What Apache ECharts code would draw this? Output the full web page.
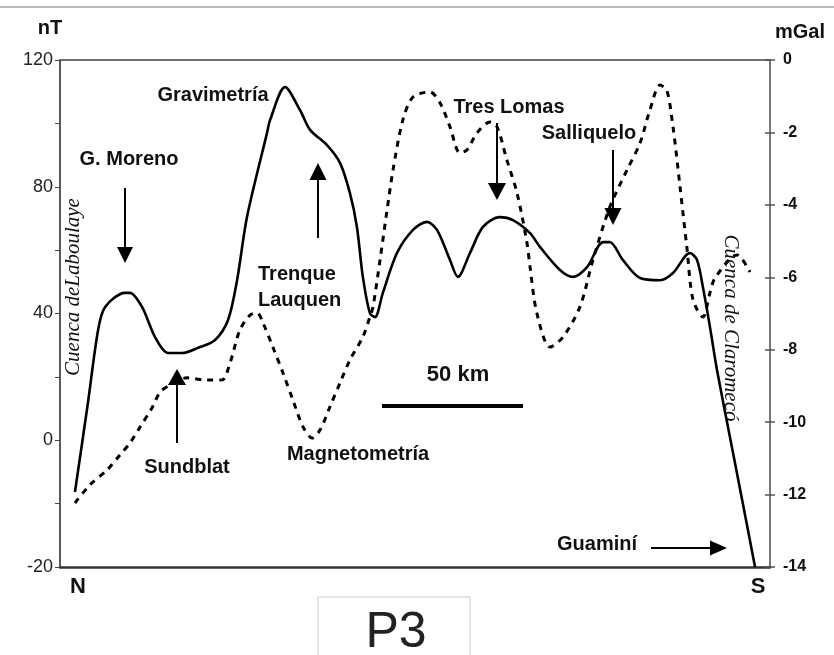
<!DOCTYPE html>
<html>
<head>
<meta charset="utf-8">
<script src="https://cdn.jsdelivr.net/npm/echarts@6/dist/echarts.min.js"></script>
<style>
html,body{margin:0;padding:0;background:#fff;}
#chart{width:834px;height:655px;}
</style>
</head>
<body>
<div id="chart"></div>
<script>
// Distance along profile (km, N -> S)
const gravKm = [5.3, 9.9, 13.5, 16.0, 23.0, 24.8, 29.1, 33.7, 38.3, 43.3, 48.9, 55.0, 59.6, 62.8, 66.3, 73.4, 74.5, 79.8, 85.1, 88.7, 94.7, 99.3, 102.8, 105.3, 107.4, 109.9, 111.7, 114.5, 119.5, 125.2, 130.1, 133.7, 138.3, 141.1, 145.4, 150.0, 156.0, 160.6, 166.7, 170.2, 177.3, 181.9, 186.9, 192.6, 195.0, 199.6, 205.7, 212.8, 217.4, 223.4, 225.9, 228.0, 230.5, 233.0, 238.7, 246.5];
// Gravimetría (mGal, right axis)
const gravMgal = [-11.93, -9.47, -7.46, -6.82, -6.43, -6.43, -6.82, -7.65, -8.09, -8.09, -7.95, -7.73, -7.18, -6.08, -4.34, -2.02, -1.66, -0.75, -1.38, -1.93, -2.35, -2.84, -3.67, -4.61, -5.99, -6.99, -7.10, -6.43, -5.33, -4.69, -4.47, -4.69, -5.52, -5.99, -5.33, -4.61, -4.34, -4.42, -4.78, -5.16, -5.80, -5.99, -5.72, -5.03, -5.03, -5.52, -6.02, -6.08, -5.88, -5.33, -5.52, -6.27, -7.37, -8.56, -10.85, -14.0];

const magKm = [5.3, 10.6, 16.7, 21.3, 24.8, 28.4, 32.6, 35.5, 39.0, 45.0, 52.1, 57.4, 60.3, 63.8, 67.4, 69.9, 72.0, 75.5, 79.1, 82.6, 86.2, 89.4, 92.2, 95.7, 99.3, 102.8, 107.4, 109.9, 111.0, 113.5, 116.0, 118.1, 121.6, 125.2, 131.2, 134.8, 138.3, 141.8, 144.3, 147.9, 152.5, 155.0, 158.5, 162.1, 165.6, 166.7, 169.1, 173.8, 178.4, 184.4, 189.0, 195.0, 201.1, 205.7, 209.2, 212.8, 215.2, 217.4, 219.9, 222.3, 224.5, 228.0, 230.5, 232.3, 240.1, 244.7];
// Magnetometría (nT, left axis)
const magNt = [-19.8, -14.1, -9.4, -4.6, -0.9, 4.2, 10.2, 15.2, 17.4, 19.7, 19.0, 19.0, 24.4, 34.8, 39.5, 40.2, 37.0, 29.4, 21.2, 12.7, 4.2, 0.7, 3.2, 10.5, 18.1, 25.3, 32.6, 38.9, 42.1, 56.9, 72.7, 85.3, 101.1, 108.3, 109.9, 106.4, 98.9, 90.7, 91.6, 97.0, 100.4, 98.9, 88.4, 78.0, 62.3, 54.7, 40.2, 29.4, 32.6, 42.1, 56.9, 73.6, 85.3, 93.8, 104.2, 112.1, 110.5, 98.9, 79.9, 61.0, 44.3, 38.9, 46.5, 51.2, 58.5, 53.1];

// Tick labels as printed on the original axes
const leftTickLabels = ['-20', '', '0', '', '40', '', '80', '', '120'];
const rightTickValues = [-14, -12, -10, -8, -6, -4, -2, 0];

const gravData = gravKm.map((k, i) => [k, gravMgal[i]]);
const magData = magKm.map((k, i) => [k, magNt[i]]);

const chart = echarts.init(document.getElementById('chart'), null, {renderer: 'canvas'});

const SANS = 'Liberation Sans, Arial, sans-serif';
const SERIF = 'Liberation Serif, Times New Roman, serif';

function txt(t, x, y, opts) {
  opts = opts || {};
  return {
    type: 'text', x: x, y: y, rotation: opts.rotation || 0, z: 100,
    style: {
      text: t, x: 0, y: 0,
      fill: opts.fill || '#111',
      font: opts.font || ('bold 20px ' + SANS),
      align: opts.align || 'center',
      verticalAlign: 'middle'
    }
  };
}
function vArrow(x, yTail, yTip, headLen, headHalf) {
  const dir = yTip > yTail ? 1 : -1;
  const base = yTip - dir * headLen;
  return [
    {type: 'line', z: 100, shape: {x1: x, y1: yTail, x2: x, y2: base}, style: {stroke: '#000', lineWidth: 2}},
    {type: 'polygon', z: 100, shape: {points: [[x - headHalf, base], [x + headHalf, base], [x, yTip]]}, style: {fill: '#000'}}
  ];
}
function hArrow(y, xTail, xTip, headLen, headHalf) {
  const base = xTip - headLen;
  return [
    {type: 'line', z: 100, shape: {x1: xTail, y1: y, x2: base, y2: y}, style: {stroke: '#000', lineWidth: 2}},
    {type: 'polygon', z: 100, shape: {points: [[base, y - headHalf], [base, y + headHalf], [xTip, y]]}, style: {fill: '#000'}}
  ];
}

const graphics = [
  {type: 'line', shape: {x1: 0, y1: 7, x2: 834, y2: 7}, style: {stroke: '#bbb', lineWidth: 2}},
  txt('nT', 50, 28, {font: 'bold 20px ' + SANS}),
  txt('mGal', 800, 32, {font: 'bold 20px ' + SANS}),
  txt('N', 78, 587, {font: 'bold 22px ' + SANS}),
  txt('S', 758, 587, {font: 'bold 22px ' + SANS}),
  txt('Gravimetría', 213, 95),
  txt('G. Moreno', 129, 159),
  txt('Trenque', 258, 274, {align: 'left'}),
  txt('Lauquen', 258, 300, {align: 'left'}),
  txt('Tres Lomas', 509, 107),
  txt('Salliquelo', 589, 133),
  txt('Sundblat', 187, 467),
  txt('Magnetometría', 358, 454),
  txt('50 km', 458, 375, {font: 'bold 22px ' + SANS}),
  txt('Guaminí', 637, 544, {align: 'right'}),
  txt('Cuenca deLaboulaye', 73, 287, {rotation: Math.PI / 2, font: 'italic 21px ' + SERIF}),
  txt('Cuenca de Claromecó', 731, 328, {rotation: -Math.PI / 2, font: 'italic 21px ' + SERIF}),
  {type: 'line', z: 100, shape: {x1: 382, y1: 406, x2: 523, y2: 406}, style: {stroke: '#000', lineWidth: 4}},
  {type: 'rect', shape: {x: 318, y: 597, width: 152, height: 70}, style: {fill: '#fff', stroke: '#ccc', lineWidth: 1}},
  txt('P3', 396, 633, {font: '50px ' + SANS, fill: '#222'})
].concat(
  vArrow(125, 188, 263, 16, 8),
  vArrow(318, 238, 163, 17, 8.5),
  vArrow(497, 123, 200, 17, 9),
  vArrow(613, 150, 225, 17, 8.5),
  vArrow(177, 443, 369, 16, 9),
  hArrow(548, 651, 727, 17, 7.5)
);

const option = {
  animation: false,
  backgroundColor: '#fff',
  grid: {left: 60, right: 64, top: 60, bottom: 88, containLabel: false},
  xAxis: [
    {
      type: 'value', min: 0, max: 251.8, position: 'bottom',
      axisLine: {show: true, onZero: false, lineStyle: {color: '#333', width: 2.5}},
      axisTick: {show: false}, axisLabel: {show: false}, splitLine: {show: false}
    },
    {
      type: 'value', min: 0, max: 251.8, position: 'top',
      axisLine: {show: true, onZero: false, lineStyle: {color: '#444', width: 1.5}},
      axisTick: {show: false}, axisLabel: {show: false}, splitLine: {show: false}
    }
  ],
  yAxis: [
    {
      type: 'value', position: 'left', min: -40, max: 120, interval: 20,
      axisLine: {show: true, onZero: false, lineStyle: {color: '#222', width: 1.5}},
      axisTick: {show: true, length: 5, lineStyle: {color: '#444', width: 1}},
      axisLabel: {
        show: true, margin: 7, color: '#222', fontSize: 18, fontFamily: SANS,
        formatter: function (v, i) { return leftTickLabels[i] || ''; }
      },
      splitLine: {show: false}
    },
    {
      type: 'value', position: 'right', min: -14, max: 0, interval: 2,
      axisLine: {show: true, onZero: false, lineStyle: {color: '#777', width: 2}},
      axisTick: {show: true, length: 5, lineStyle: {color: '#555', width: 1.5}},
      axisLabel: {
        show: true, margin: 13, color: '#111', fontSize: 16, fontWeight: 'bold', fontFamily: SANS,
        formatter: function (v) { return rightTickValues.indexOf(v) >= 0 ? String(v) : ''; }
      },
      splitLine: {show: false}
    },
    {
      type: 'value', position: 'right', min: -14, max: 0, interval: 2,
      axisLine: {show: false, onZero: false},
      axisTick: {show: true, inside: true, length: 5, lineStyle: {color: '#555', width: 1.5}},
      axisLabel: {show: false},
      splitLine: {show: false}
    }
  ],
  series: [
    {
      name: 'Gravimetría', type: 'line', xAxisIndex: 0, yAxisIndex: 1,
      data: gravData, smooth: 0.3, showSymbol: false, symbol: 'none',
      lineStyle: {color: '#000', width: 2.6}, z: 5
    },
    {
      name: 'Magnetometría', type: 'line', xAxisIndex: 0, yAxisIndex: 0,
      data: magData, smooth: 0.3, showSymbol: false, symbol: 'none',
      lineStyle: {color: '#000', width: 3, type: [6, 6]}, z: 4
    }
  ],
  graphic: graphics
};
chart.setOption(option);
</script>
</body>
</html>
